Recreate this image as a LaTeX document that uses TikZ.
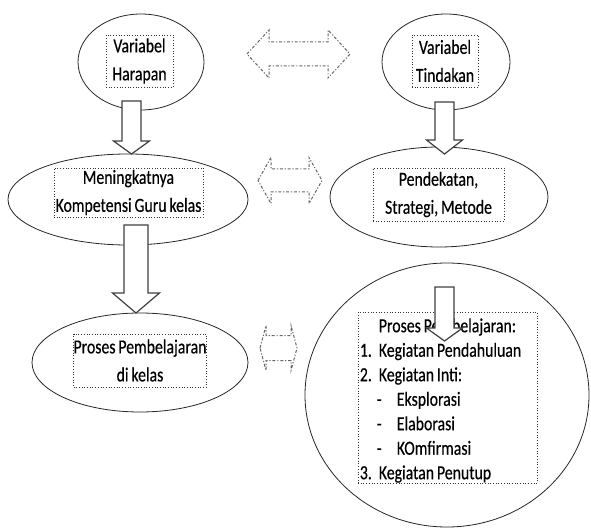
\documentclass[tikz,border=0pt]{standalone}
\usepackage{fontspec}
\setmainfont{Carlito}[FakeStretch=0.79, WordSpace=0.8, FakeBold=0.4]
\usepackage{tikz}
\usetikzlibrary{shapes.geometric,positioning}

\tikzset{
  oval/.style={draw=black!85, line width=0.8pt, ellipse, inner sep=0pt},
  dotbox/.style={draw=black!80, dotted, line width=0.7pt, inner sep=0pt, align=center,
    font=\fontsize{20}{28}\selectfont},
  listtext/.style={inner sep=0pt, align=left, font=\fontsize{20}{24.5}\selectfont},
  fatline/.style={draw=black!75, line width=1.2pt, fill=white, line join=miter},
  dashline/.style={draw=black!60, line width=1pt,
    dash pattern=on 3pt off 1.8pt on 1.2pt off 1.8pt}
}

% cx, ytop, ytip, shaft half, head half, head length
\newcommand{\fatarrow}[6]{%
  \draw[fatline] (#1-#4,#2) -- (#1+#4,#2) -- (#1+#4,#3-#6) -- (#1+#5,#3-#6)
    -- (#1,#3) -- (#1-#5,#3-#6) -- (#1-#4,#3-#6) -- cycle;}

% xleft, xright, yc, shaft half, head half, head length
\newcommand{\dblarrow}[6]{%
  \draw[dashline] (#1,#3) -- (#1+#6,#3-#5) -- (#1+#6,#3-#4) -- (#2-#6,#3-#4)
    -- (#2-#6,#3-#5) -- (#2,#3) -- (#2-#6,#3+#5) -- (#2-#6,#3+#4)
    -- (#1+#6,#3+#4) -- (#1+#6,#3+#5) -- cycle;}

\begin{document}
\begin{tikzpicture}[x=1pt,y=-1pt]
\useasboundingbox (0,0) rectangle (591,529);

\node[oval, minimum width=126, minimum height=96] (harapan) at (141,62) {};
\node[dotbox, minimum width=67, minimum height=52] (harapanbox) at (139.5,61) {Variabel\\Harapan};

\node[oval, minimum width=128, minimum height=96] (tindakan) at (446,62) {};
\node[dotbox, minimum width=66, minimum height=52] (tindakanbox) at (445,61) {Variabel\\Tindakan};

\node[oval, minimum width=240, minimum height=91] (kompetensi) at (128,199.5) {};
\node[dotbox, minimum width=149, minimum height=49] (kompetensibox) at (128.5,192.5)
  {\fontsize{20}{24}\selectfont Meningkatnya\\Kompetensi Guru kelas};

\node[oval, minimum width=218, minimum height=100] (pendekatan) at (439,197) {};
\node[dotbox, minimum width=131, minimum height=53] (pendekatanbox) at (438.5,194.5) {Pendekatan,\\Strategi, Metode};

\node[oval, minimum width=216, minimum height=99] (proses) at (140,362.5) {};
\node[dotbox, minimum width=132, minimum height=53] (prosesbox) at (140,360.5) {Proses Pembelajaran\\di kelas};

\node[oval, minimum width=284, minimum height=264] (langkah) at (447,395) {};
\node[dotbox, minimum width=179, minimum height=171] (langkahbox) at (447.5,397.5) {};
\node[listtext, right=2pt of langkahbox.west, yshift=-3pt] (langkahlist)
  {\hspace*{19pt}Proses Pembelajaran:\\
   \makebox[19pt][l]{1.}Kegiatan Pendahuluan\\
   \makebox[19pt][l]{2.}Kegiatan Inti:\\
   \hspace*{17pt}\makebox[20pt][l]{-}Eksplorasi\\
   \hspace*{17pt}\makebox[20pt][l]{-}Elaborasi\\
   \hspace*{17pt}\makebox[20pt][l]{-}KOmfirmasi\\
   \makebox[19pt][l]{3.}Kegiatan Penutup};

\fatarrow{131.5}{101}{154}{9.5}{18}{13}
\fatarrow{136}{225}{313}{12}{23.5}{20}
\fatarrow{444.5}{102}{154}{9.5}{18}{14}
\fatarrow{444.5}{287}{341}{9.5}{18}{13}

\dblarrow{247}{350}{54}{12}{24}{22}
\dblarrow{258}{322}{180.5}{11.5}{23}{13}
\dblarrow{260}{297}{348}{12.5}{22.5}{6}
\end{tikzpicture}
\end{document}
